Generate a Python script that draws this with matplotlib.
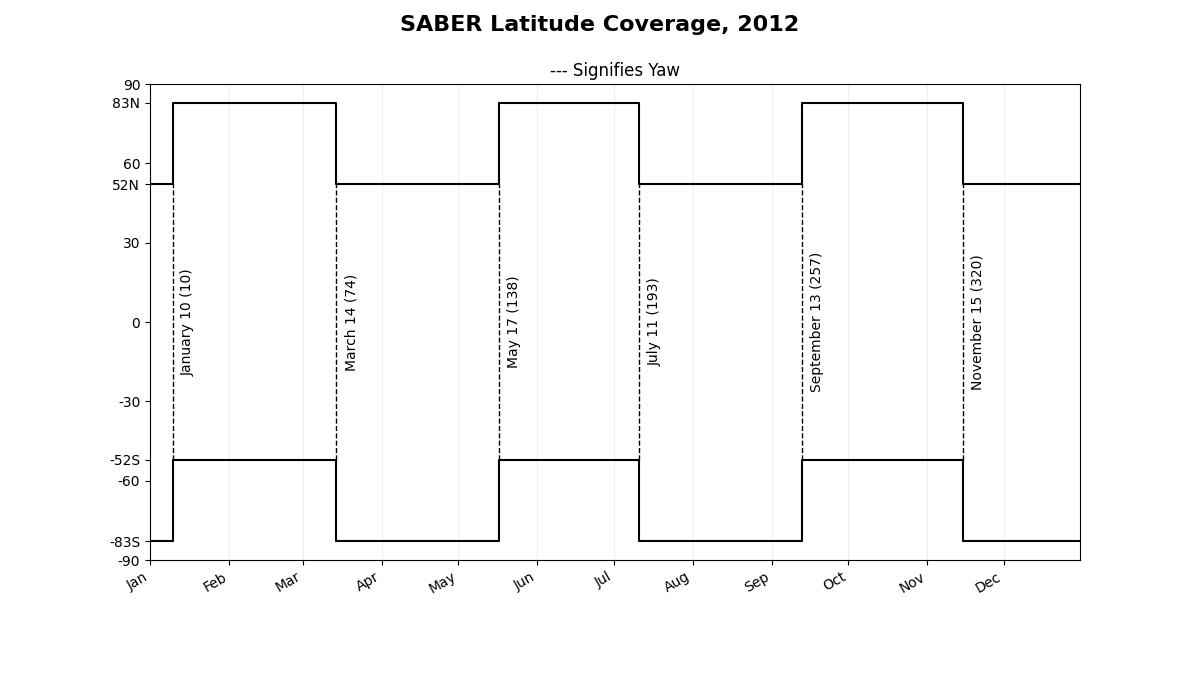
import datetime as dt
import matplotlib
matplotlib.use("Agg")
from matplotlib import pyplot as plt
import matplotlib.dates as mdates

# yaw days of 2012 (day of year)
yaw_days = [10, 74, 138, 193, 257, 320]
yaw_labels = ["January 10 (10)", "March 14 (74)", "May 17 (138)",
              "July 11 (193)", "September 13 (257)", "November 15 (320)"]
# latitude limits between yaws (start -> first yaw, ..., last yaw -> end)
north_lat = [52, 83, 52, 83, 52, 83, 52]
south_lat = [-83, -52, -83, -52, -83, -52, -83]
ytick_vals = [90, 83, 60, 52, 30, 0, -30, -52, -60, -83, -90]
ytick_text = ["90", "83N", "60", "52N", "30", "0", "-30", "-52S", "-60", "-83S", "-90"]

start = dt.datetime(2012, 1, 1)
end = dt.datetime(2012, 12, 31)
yaw_dates = [start + dt.timedelta(days=d - 1) for d in yaw_days]
edges = [start] + yaw_dates + [end]

fig, ax = plt.subplots(figsize=(12, 7), dpi=100)
fig.subplots_adjust(left=0.125, right=0.9, top=0.88, bottom=0.2)

ax.step(edges, north_lat + [north_lat[-1]], where="post", color="k", lw=1.5)
ax.step(edges, south_lat + [south_lat[-1]], where="post", color="k", lw=1.5)

for d, lab in zip(yaw_dates, yaw_labels):
    ax.vlines(d, -52, 52, colors="k", linestyles="--", lw=1)
    ax.text(d + dt.timedelta(days=3.2), 0, lab, rotation=90, va="center", ha="left", fontsize=10)

ax.set_xlim(start, end)
ax.set_ylim(-90, 90)
ax.set_yticks(ytick_vals)
ax.set_yticklabels(ytick_text)
ax.xaxis.set_major_locator(mdates.MonthLocator())
ax.xaxis.set_major_formatter(mdates.DateFormatter("%b"))
ax.grid(axis="x", color="#eeeeee", lw=0.8)
for lbl in ax.get_xticklabels():
    lbl.set_rotation(30)
    lbl.set_ha("right")

ax.set_title("--- Signifies Yaw", fontsize=12)
fig.suptitle("SABER Latitude Coverage, 2012", fontsize=16, fontweight="bold", y=0.979)
fig.savefig("out.png")
